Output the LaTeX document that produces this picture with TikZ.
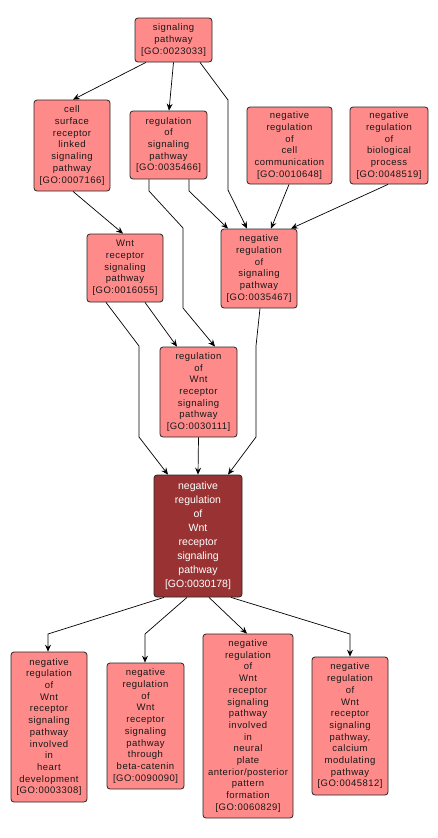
\documentclass[tikz,border=0pt]{standalone}
\usepackage{fontspec}
\setmainfont{Liberation Sans}
\newfontfamily\spacedfont[LetterSpace=5]{Liberation Sans}
\usetikzlibrary{arrows.meta}
\definecolor{nodefill}{RGB}{255,138,138}
\definecolor{mainfill}{RGB}{153,51,51}
\definecolor{txt}{RGB}{25,25,25}
\tikzset{
  box/.style={draw=black!85, line width=0.8pt, rounded corners=3pt, fill=nodefill,
    align=center, inner sep=0pt, text=txt,
    font=\spacedfont\fontsize{9.5}{11.7}\selectfont},
  mainbox/.style={box, fill=mainfill, text=white, font=\rmfamily\fontsize{10.5}{14}\selectfont},
  arr/.style={draw=black, line width=0.7pt, -{Stealth[length=7pt,width=6pt,inset=2.5pt]}},
}
\begin{document}
\begin{tikzpicture}[x=1pt,y=-1pt]
\useasboundingbox[fill=white] (0,0) rectangle (438,838);

\node[box, minimum width=77pt, minimum height=44pt] (sp) at (173.5,40) {signaling\\pathway\\{[GO:0023033]}};
\node[box, minimum width=76pt, minimum height=91pt] (csr) at (72,145.5) {cell\\surface\\receptor\\linked\\signaling\\pathway\\{[GO:0007166]}};
\node[box, minimum width=77pt, minimum height=68pt] (rsp) at (168.5,145) {regulation\\of\\signaling\\pathway\\{[GO:0035466]}};
\node[box, minimum width=85pt, minimum height=77pt] (nrcc) at (289.5,145.5) {negative\\regulation\\of\\cell\\communication\\{[GO:0010648]}};
\node[box, minimum width=78pt, minimum height=77pt] (nrbp) at (389,145.5) {negative\\regulation\\of\\biological\\process\\{[GO:0048519]}};
\node[box, minimum width=76pt, minimum height=68pt] (wnt) at (125,268) {Wnt\\receptor\\signaling\\pathway\\{[GO:0016055]}};
\node[box, minimum width=76pt, minimum height=79pt] (nrsp) at (259,268.5) {negative\\regulation\\of\\signaling\\pathway\\{[GO:0035467]}};
\node[box, minimum width=77pt, minimum height=90pt] (rwnt) at (198.5,392) {regulation\\of\\Wnt\\receptor\\signaling\\pathway\\{[GO:0030111]}};
\node[mainbox, minimum width=88pt, minimum height=122pt] (main) at (198,536) {negative\\regulation\\of\\Wnt\\receptor\\signaling\\pathway\\{[GO:0030178]}};
\node[box, minimum width=76pt, minimum height=150pt] (a) at (49,727) {negative\\regulation\\of\\Wnt\\receptor\\signaling\\pathway\\involved\\in\\heart\\development\\{[GO:0003308]}};
\node[box, minimum width=77pt, minimum height=126pt] (b) at (145.5,726) {negative\\regulation\\of\\Wnt\\receptor\\signaling\\pathway\\through\\beta-catenin\\{[GO:0090090]}};
\node[box, minimum width=90pt, minimum height=184pt] (c) at (248,726) {negative\\regulation\\of\\Wnt\\receptor\\signaling\\pathway\\involved\\in\\neural\\plate\\anterior/posterior\\pattern\\formation\\{[GO:0060829]}};
\node[box, minimum width=76pt, minimum height=138pt] (d) at (350,726) {negative\\regulation\\of\\Wnt\\receptor\\signaling\\pathway,\\calcium\\modulating\\pathway\\{[GO:0045812]}};

% edges
\draw[arr] ([xshift=-27.5pt]sp.south) -- ([xshift=1pt]csr.north);
\draw[arr] (sp.south) -- ([xshift=0.5pt]rsp.north);
\draw[arr] ([xshift=26.5pt]sp.south) -- (228,100) -- (228,190) -- ([xshift=-12pt]nrsp.north);
\draw[arr] ([xshift=20.5pt]rsp.south) -- (189,191) -- ([xshift=-31pt]nrsp.north);
\draw[arr] ([xshift=-0.5pt]nrcc.south) -- ([xshift=12pt]nrsp.north);
\draw[arr] ([xshift=-1pt]nrbp.south) -- ([xshift=32pt]nrsp.north);
\draw[arr] ([xshift=1pt]csr.south) -- ([xshift=-2pt]wnt.north);
\draw[arr] ([xshift=-19.5pt]rsp.south) -- (149,191) -- (183,228) -- (183,308) -- ([xshift=16.5pt]rwnt.north);
\draw[arr] ([xshift=20pt]wnt.south) -- ([xshift=-21.5pt]rwnt.north);
\draw[arr] ([xshift=-19pt]wnt.south) -- (139,346) -- (139,437) -- ([xshift=-30pt]main.north);
\draw[arr] (rwnt.south) -- (main.north);
\draw[arr] ([xshift=1pt]nrsp.south) -- (256,346) -- (256,437) -- ([xshift=30pt]main.north);
\draw[arr] ([xshift=-34pt]main.south) -- (48,634) -- ([xshift=-1pt]a.north);
\draw[arr] ([xshift=-11pt]main.south) -- (145,634) -- ([xshift=-0.5pt]b.north);
\draw[arr] ([xshift=11pt]main.south) -- ([xshift=-1pt]c.north);
\draw[arr] ([xshift=33pt]main.south) -- (350,634) -- (d.north);
\end{tikzpicture}
\end{document}
